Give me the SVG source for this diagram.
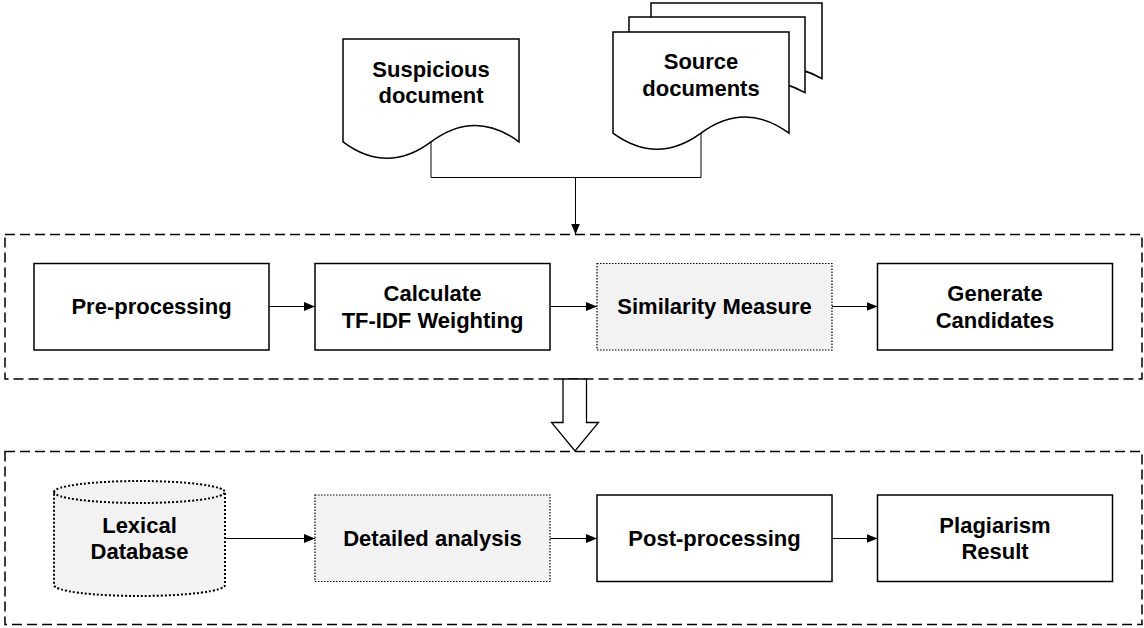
<svg xmlns="http://www.w3.org/2000/svg" width="1144" height="628" viewBox="0 0 1144 628">
<defs>
<style>
.container{fill:none;stroke:#000;stroke-width:1.5;stroke-dasharray:10 5}
.box{fill:#fff;stroke:#000;stroke-width:1.5}
.gbox{fill:#f2f2f2;stroke:#000;stroke-width:1.2;stroke-dasharray:1.5 1.5}
.cyl{fill:#f2f2f2;stroke:#000;stroke-width:2;stroke-dasharray:2 2}
.doc{fill:#fff;stroke:#000;stroke-width:1.5}
.edge{fill:none;stroke:#000;stroke-width:1}
.big{fill:#fff;stroke:#000;stroke-width:1.3}
text{font-family:"Liberation Sans",Arial,Helvetica,sans-serif;font-weight:bold;font-size:22px;fill:#000;text-anchor:middle}
</style>
<marker id="arr" markerWidth="11" markerHeight="9" refX="11" refY="4.5" orient="auto" markerUnits="userSpaceOnUse">
<path d="M0,0 L11,4.5 L0,9 Z" fill="#000"/>
</marker>
</defs>

<g id="container1"><rect class="container" x="5" y="234.5" width="1137" height="144.5"/></g>
<g id="container2"><rect class="container" x="5" y="451.5" width="1137" height="173"/></g>

<g id="source-documents">
<path class="doc" d="M651,3 L822,3 L822,78.65 Q779.25,54.6 736.5,78.65 Q693.75,102.7 651,78.65 Z"/>
<path class="doc" d="M629,17 L805,17 L805,92.65 Q761,68.6 717,92.65 Q673,116.7 629,92.65 Z"/>
<path class="doc" d="M613,32 L789,32 L789,133.15 Q745,101 701,133.15 Q657,165.3 613,133.15 Z"/>
<text x="701" y="69">Source</text>
<text x="701" y="95.7">documents</text>
</g>

<g id="suspicious-document">
<path class="doc" d="M343,39 L519,39 L519,141.85 Q475,109 431,141.85 Q387,174.7 343,141.85 Z"/>
<text x="431" y="77.3">Suspicious</text>
<text x="431" y="103.3">document</text>
</g>

<g id="pre-processing">
<rect class="box" x="34" y="263.5" width="235" height="86.5"/>
<text x="151.5" y="314.3">Pre-processing</text>
</g>
<g id="tfidf">
<rect class="box" x="315" y="263.5" width="235" height="86.5"/>
<text x="432.5" y="301">Calculate</text>
<text x="432.5" y="327.6">TF-IDF Weighting</text>
</g>
<g id="similarity">
<rect class="gbox" x="597" y="263.5" width="235" height="86.5"/>
<text x="714.5" y="314.3">Similarity Measure</text>
</g>
<g id="candidates">
<rect class="box" x="877.5" y="263.5" width="235" height="86.5"/>
<text x="995" y="301">Generate</text>
<text x="995" y="327.6">Candidates</text>
</g>

<g id="lexical-database">
<path class="cyl" d="M54,492 A85.5,11 0 0 1 225,492 L225,585 A85.5,11 0 0 1 54,585 Z"/>
<path class="cyl" fill="none" d="M54,492 A85.5,11 0 0 0 225,492"/>
<text x="139.5" y="532.5">Lexical</text>
<text x="139.5" y="559.3">Database</text>
</g>
<g id="detailed-analysis">
<rect class="gbox" x="315" y="495" width="235" height="86.5"/>
<text x="432.5" y="546">Detailed analysis</text>
</g>
<g id="post-processing">
<rect class="box" x="597" y="495" width="235" height="86.5"/>
<text x="714.5" y="546">Post-processing</text>
</g>
<g id="plagiarism-result">
<rect class="box" x="877.5" y="495" width="235" height="86.5"/>
<text x="995" y="532.5">Plagiarism</text>
<text x="995" y="559.3">Result</text>
</g>

<g id="connectors">
<polyline class="edge" points="431,142 431,177.5 701,177.5 701,133.5"/>
<line class="edge" x1="575.5" y1="177.5" x2="575.5" y2="234.5" marker-end="url(#arr)"/>
<line class="edge" x1="269" y1="306.5" x2="315" y2="306.5" marker-end="url(#arr)"/>
<line class="edge" x1="550" y1="306.5" x2="597" y2="306.5" marker-end="url(#arr)"/>
<line class="edge" x1="832" y1="306.5" x2="877.5" y2="306.5" marker-end="url(#arr)"/>
<line class="edge" x1="225" y1="538.5" x2="315" y2="538.5" marker-end="url(#arr)"/>
<line class="edge" x1="550" y1="538.5" x2="597" y2="538.5" marker-end="url(#arr)"/>
<line class="edge" x1="832" y1="538.5" x2="877.5" y2="538.5" marker-end="url(#arr)"/>
<path class="big" d="M563,379 L586.5,379 L586.5,422.5 L598.5,422.5 L575,451 L551.5,422.5 L563,422.5 Z"/>
</g>
</svg>
